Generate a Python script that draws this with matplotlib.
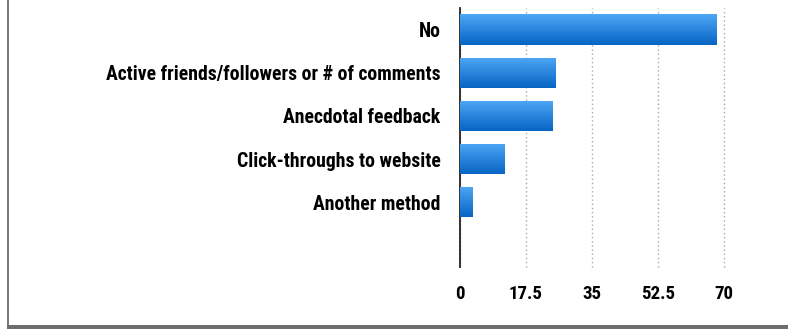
import numpy as np
import matplotlib
matplotlib.use("Agg")
import matplotlib.pyplot as plt
from matplotlib.patches import Rectangle
from matplotlib.colors import LinearSegmentedColormap

categories = ["No", "Active friends/followers or # of comments", "Anecdotal feedback",
              "Click-throughs to website", "Another method"]
values = [68.1, 25.2, 24.4, 11.7, 3.2]
xticks = [0, 17.5, 35, 52.5, 70]
xtick_labels = ["0", "17.5", "35", "52.5", "70"]

plt.rcParams["font.family"] = ["Roboto Condensed", "Archivo Narrow", "DejaVu Sans"]

W, H = 788, 329
fig = plt.figure(figsize=(W / 100, H / 100), dpi=100)
fig.patch.set_facecolor("white")
ax = fig.add_axes([460 / W, 1 - 267 / H, (724 - 460) / W, (267 - 8) / H])

ypos = np.arange(len(categories))
bars = ax.barh(ypos, values, height=0.7, color="#2a86e0", zorder=2)

# vertical gradient fill for each bar
grad = np.linspace(0, 1, 256).reshape(-1, 1)
cmap = LinearSegmentedColormap.from_list("bar", ["#4fa7f6", "#0664c3"])
for b in bars:
    x0, y0 = b.get_x(), b.get_y()
    w, h = b.get_width(), b.get_height()
    im = ax.imshow(grad, cmap=cmap, aspect="auto", extent=(x0, x0 + w, y0 + h, y0),
                   origin="upper", zorder=3, interpolation="bilinear")
    im.set_clip_path(b)
    b.set_facecolor("none")

ax.set_xlim(0, 70)
ax.set_ylim(len(categories) + 0.5, -0.5)
ax.set_xticks(xticks)
ax.set_xticklabels(xtick_labels)
ax.set_yticks(ypos)
ax.set_yticklabels(categories)
ax.tick_params(axis="both", length=0)
ax.tick_params(axis="x", pad=13, labelsize=13.6)
ax.tick_params(axis="y", pad=14, labelsize=14.2)
for lbl in ax.get_xticklabels() + ax.get_yticklabels():
    lbl.set_fontweight("bold")

ax.grid(axis="x", linestyle=(0, (1, 2)), color="#a8a8a8", linewidth=1, zorder=1)
ax.grid(axis="y", visible=False)
for gl in ax.get_xgridlines():
    gl.set_clip_on(False)
for s in ["top", "right", "bottom"]:
    ax.spines[s].set_visible(False)
ax.spines["left"].set_color("#222222")
ax.spines["left"].set_linewidth(1.3)

# outer frame: thin left edge and heavier bottom edge
fig.add_artist(Rectangle((7 / W, 0), 2 / W, 1, transform=fig.transFigure,
                         facecolor="#7a7a7a", edgecolor="none"))
fig.add_artist(Rectangle((7 / W, 0), 1 - 7 / W, 4.5 / H, transform=fig.transFigure,
                         facecolor="#6e6e6e", edgecolor="none"))

fig.savefig("out.png", dpi=100)
